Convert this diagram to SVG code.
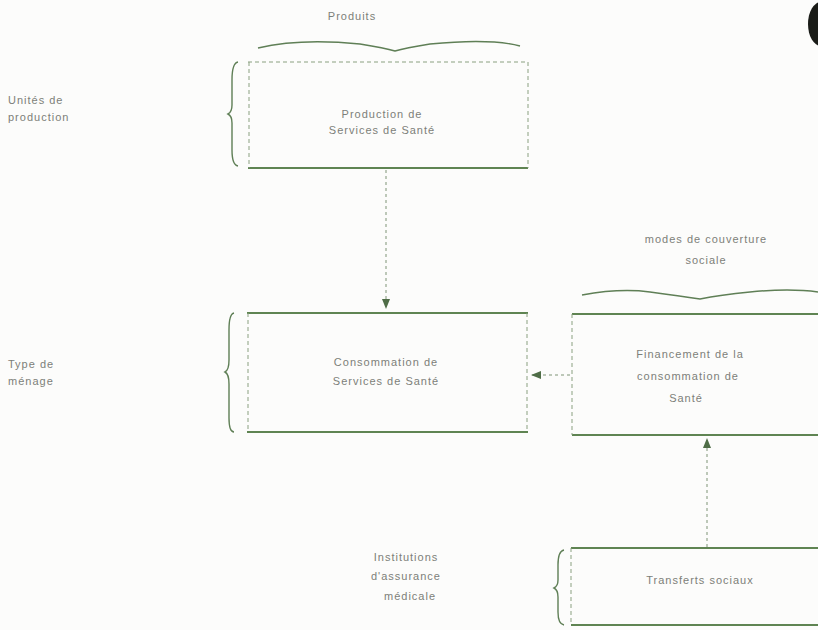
<svg xmlns="http://www.w3.org/2000/svg" width="818" height="630" viewBox="0 0 818 630">
<defs>
<style>
.bg{fill:#fcfcfb}
.solid{stroke:#5f8452;stroke-width:1.8;fill:none}
.dash{stroke:#8aa080;stroke-width:1;stroke-dasharray:4 3;fill:none}
.brace{fill:none;stroke:#5f7f56;stroke-width:1.4}
.t{font-family:"Liberation Sans",Arial,sans-serif;font-size:11px;fill:#7c7f79;letter-spacing:1px}
.tc{text-anchor:middle}
.conn{stroke:#7f9477;stroke-width:1;stroke-dasharray:3 3;fill:none}
</style>
<marker id="ah" viewBox="0 0 10 10" refX="9" refY="5" markerWidth="10" markerHeight="10" orient="auto">
<path d="M0,1 L10,5 L0,9 Z" fill="#4f6d47"/>
</marker>
</defs>
<rect class="bg" x="0" y="0" width="818" height="630"/>
<ellipse cx="821" cy="24" rx="13" ry="22" fill="#1a1c18"/>

<g id="labels">
<text class="t tc" x="352" y="20">Produits</text>
<text class="t" x="8" y="104">Unités de</text>
<text class="t" x="8" y="121">production</text>
<text class="t" x="8" y="368">Type de</text>
<text class="t" x="8" y="385">ménage</text>
<text class="t tc" x="706" y="243">modes de couverture</text>
<text class="t tc" x="706" y="264">sociale</text>
<text class="t tc" x="406" y="561">Institutions</text>
<text class="t tc" x="406" y="580">d'assurance</text>
<text class="t tc" x="410" y="600">médicale</text>
</g>

<g id="braces">
<path class="brace" d="M258,48 Q300,38 360,44 Q385,48 395,51 Q405,48 430,44 Q490,38 520,46"/>
<path class="brace" d="M238,62 Q232,63 232,80 L232,105 Q232,112 228,114 Q232,116 232,123 L232,150 Q232,165 238,166"/>
<path class="brace" d="M234,313 Q229,314 229,330 L229,360 Q229,370 225,372 Q229,374 229,384 L229,418 Q229,432 234,432"/>
<path class="brace" d="M582,295 Q620,288 650,292 Q680,296 700,299 Q720,295 750,292 Q790,288 818,292"/>
<path class="brace" d="M564,550 Q558,551 558,565 L558,580 Q558,586 554,588 Q558,590 558,597 L558,612 Q558,624 564,625"/>
</g>

<g id="node-production">
<line class="dash" x1="248" y1="62" x2="528" y2="62"/>
<line class="solid" x1="248" y1="168" x2="528" y2="168"/>
<line class="dash" x1="249" y1="62" x2="249" y2="168"/>
<line class="dash" x1="528" y1="62" x2="528" y2="168"/>
<text class="t tc" x="382" y="118">Production de</text>
<text class="t tc" x="382" y="134">Services de Santé</text>
</g>

<g id="node-consommation">
<line class="solid" x1="247" y1="313" x2="528" y2="313"/>
<line class="solid" x1="247" y1="432" x2="528" y2="432"/>
<line class="dash" x1="248" y1="313" x2="248" y2="432"/>
<line class="dash" x1="527" y1="313" x2="527" y2="432"/>
<text class="t tc" x="386" y="366">Consommation de</text>
<text class="t tc" x="386" y="385">Services de Santé</text>
</g>

<g id="node-financement">
<line class="solid" x1="572" y1="314" x2="818" y2="314"/>
<line class="solid" x1="572" y1="435" x2="818" y2="435"/>
<line class="dash" x1="572" y1="314" x2="572" y2="435"/>
<text class="t tc" x="690" y="358">Financement de la</text>
<text class="t tc" x="688" y="380">consommation de</text>
<text class="t tc" x="686" y="402">Santé</text>
</g>

<g id="node-transferts">
<line class="solid" x1="571" y1="548" x2="818" y2="548"/>
<line class="solid" x1="571" y1="625" x2="818" y2="625"/>
<line class="dash" x1="571" y1="548" x2="571" y2="625"/>
<text class="t tc" x="700" y="584">Transferts sociaux</text>
</g>

<g id="connectors">
<line class="conn" x1="386" y1="170" x2="386" y2="308" marker-end="url(#ah)"/>
<line class="conn" x1="570" y1="375" x2="532" y2="375" marker-end="url(#ah)"/>
<line class="conn" x1="707" y1="547" x2="707" y2="439" marker-end="url(#ah)"/>
</g>
</svg>
